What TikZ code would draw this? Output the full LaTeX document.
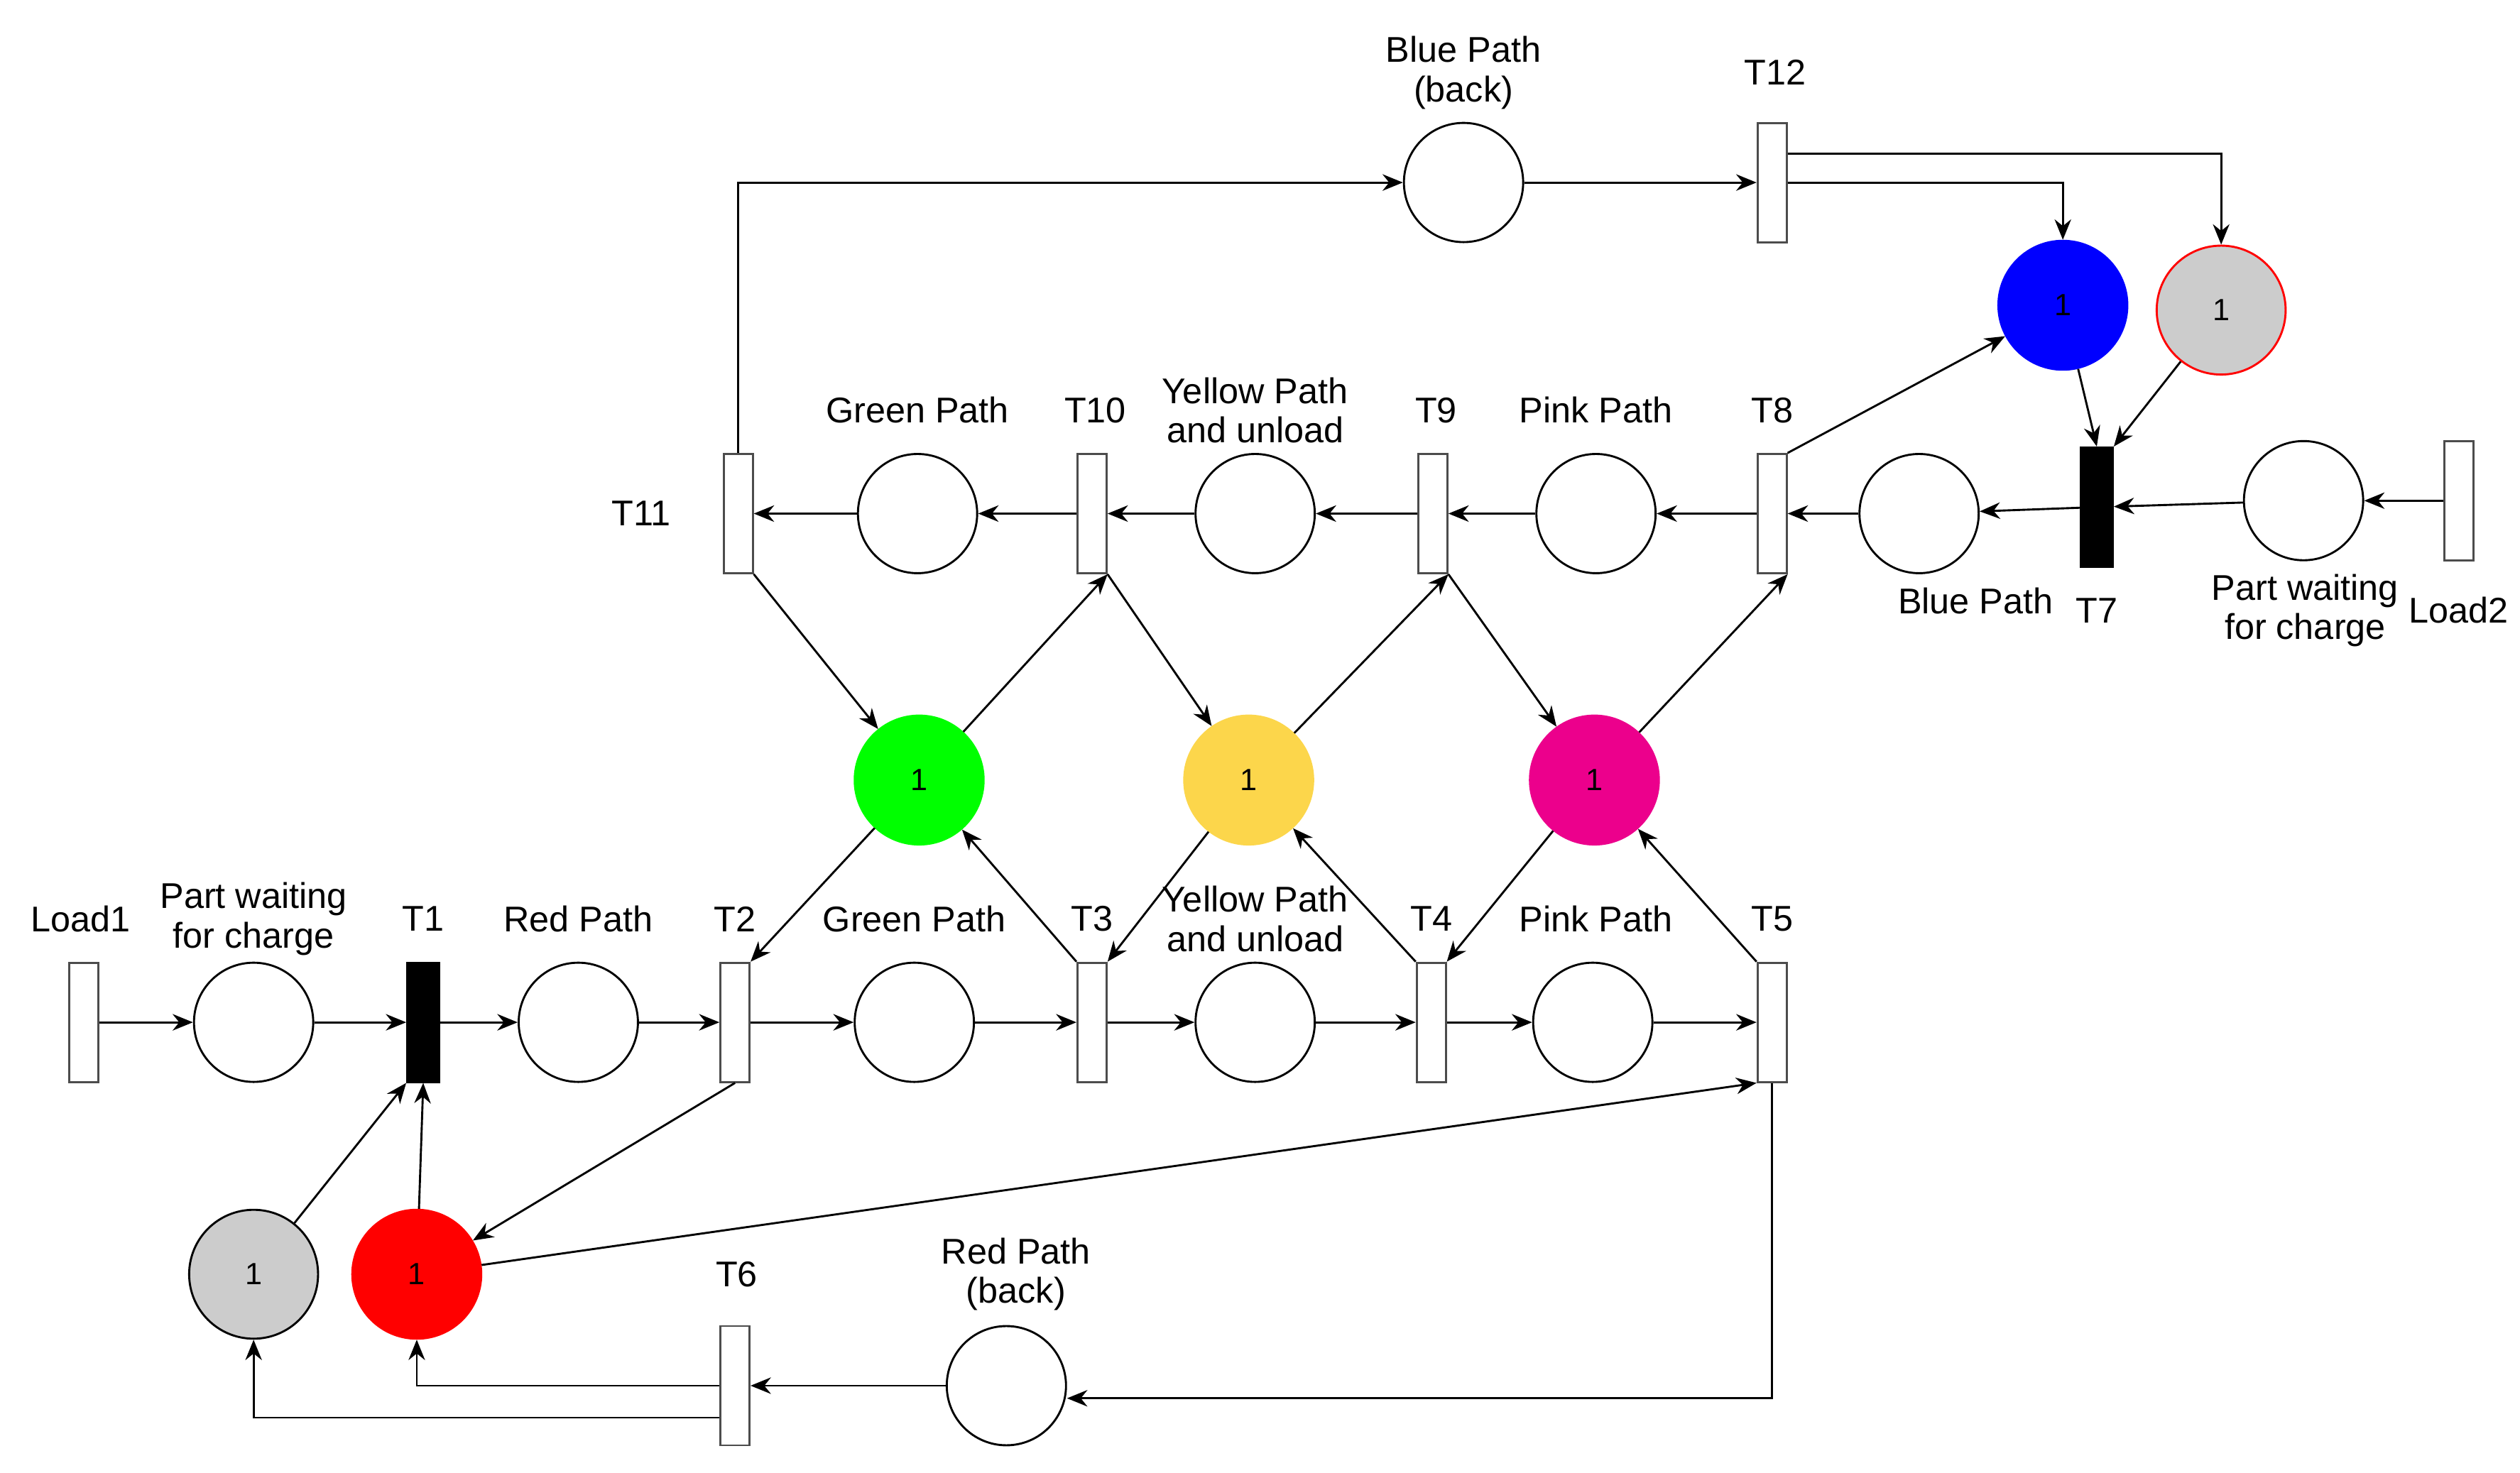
\documentclass[tikz,border=0pt]{standalone}
\usepackage{fontspec}
\setmainfont{Liberation Sans}
\usetikzlibrary{arrows.meta}

\tikzset{
  place/.style={circle,draw,minimum size=1.23cm,inner sep=0pt,font=\small,semithick},
  token/.style={place,minimum size=1.33cm},
  trans/.style={rectangle,draw=black!70,fill=white,minimum width=0.3cm,minimum height=1.23cm,inner sep=0pt,semithick},
  btrans/.style={trans,fill=black,draw=black,minimum width=0.33cm},
  lbl/.style={align=center,font=\fontsize{10.5}{11.5}\selectfont,inner sep=1pt},
  arc/.style={-{Stealth[length=2.1mm,width=1.7mm]},semithick}
}

\begin{document}
\begin{tikzpicture}[x=0.016667cm,y=-0.016667cm]
    \useasboundingbox (0,0) rectangle (1560,912);

    % lower row
    \node[trans]  (load1) at (52,633)  {};
    \node[place]  (pw1)   at (157,633) {};
    \node[btrans] (t1)    at (262,633) {};
    \node[place]  (rp)    at (358,633) {};
    \node[trans]  (t2)    at (455,633) {};
    \node[place]  (gp)    at (566,633) {};
    \node[trans]  (t3)    at (676,633) {};
    \node[place]  (yp)    at (777,633) {};
    \node[trans]  (t4)    at (886,633) {};
    \node[place]  (pp)    at (986,633) {};
    \node[trans]  (t5)    at (1097,633) {};

    % resources
    \node[token,fill=green,draw=green]         (gr) at (569,483) {1};
    \node[token,fill=yellow!60!orange!70,draw=yellow!60!orange!70] (ye) at (773,483) {1};
    \node[token,fill=magenta,draw=magenta] (pk) at (987,483) {1};
    \node[token,fill=black!20]      (g1) at (157,789) {1};
    \node[token,fill=red,draw=red]  (rd) at (258,789) {1};
    \node[token,fill=blue,draw=blue] (bl) at (1277,189) {1};
    \node[token,fill=black!20,draw=red] (g2) at (1375,192) {1};

    % upper row
    \node[trans]  (t11)   at (457,318) {};
    \node[place]  (ugp)   at (568,318) {};
    \node[trans]  (t10)   at (676,318) {};
    \node[place]  (uyp)   at (777,318) {};
    \node[trans]  (t9)    at (887,318) {};
    \node[place]  (upp)   at (988,318) {};
    \node[trans]  (t8)    at (1097,318) {};
    \node[place]  (ubp)   at (1188,318) {};
    \node[btrans] (t7)    at (1298,314) {};
    \node[place]  (pw2)   at (1426,310) {};
    \node[trans]  (load2) at (1522,310) {};

    % return paths
    \node[place]  (bb)    at (906,113) {};
    \node[trans]  (t12)   at (1097,113) {};
    \node[place]  (rb)    at (623,858) {};
    \node[trans]  (t6)    at (455,858) {};

    % labels
    \node[lbl] at (50,569)  {Load1};
    \node[lbl] at (157,569) {Part waiting\\for charge};
    \node[lbl] at (262,569) {T1};
    \node[lbl] at (358,569) {Red Path};
    \node[lbl] at (455,569) {T2};
    \node[lbl] at (566,569) {Green Path};
    \node[lbl] at (676,569) {T3};
    \node[lbl] at (777,569) {Yellow Path\\and unload};
    \node[lbl] at (886,569) {T4};
    \node[lbl] at (988,569) {Pink Path};
    \node[lbl] at (1097,569) {T5};
    \node[lbl] at (568,254) {Green Path};
    \node[lbl] at (678,254) {T10};
    \node[lbl] at (777,254) {Yellow Path\\and unload};
    \node[lbl] at (889,254) {T9};
    \node[lbl] at (988,254) {Pink Path};
    \node[lbl] at (1097,254) {T8};
    \node[lbl] at (397,318) {T11};
    \node[lbl] at (1223,372) {Blue Path};
    \node[lbl] at (1298,378) {T7};
    \node[lbl] at (1427,378) {Part waiting\\for charge};
    \node[lbl] at (1522,378) {Load2};
    \node[lbl] at (906,45)  {Blue Path\\(back)};
    \node[lbl] at (1099,45) {T12};
    \node[lbl] at (456,789) {T6};
    \node[lbl] at (629,789) {Red Path\\(back)};

    % lower flow
    \draw[arc] (load1) -- (pw1);
    \draw[arc] (pw1) -- (t1);
    \draw[arc] (t1) -- (rp);
    \draw[arc] (rp) -- (t2);
    \draw[arc] (t2) -- (gp);
    \draw[arc] (gp) -- (t3);
    \draw[arc] (t3) -- (yp);
    \draw[arc] (yp) -- (t4);
    \draw[arc] (t4) -- (pp);
    \draw[arc] (pp) -- (t5);

    % upper flow
    \draw[arc] (load2) -- (pw2);
    \draw[arc] (pw2) -- (t7);
    \draw[arc] (t7) -- (ubp);
    \draw[arc] (ubp) -- (t8);
    \draw[arc] (t8) -- (upp);
    \draw[arc] (upp) -- (t9);
    \draw[arc] (t9) -- (uyp);
    \draw[arc] (uyp) -- (t10);
    \draw[arc] (t10) -- (ugp);
    \draw[arc] (ugp) -- (t11);

    % resources
    \draw[arc] (g1) -- (t1.south west);
    \draw[arc] (rd) -- (t1.south);
    \draw[arc] (t2.south) -- (rd);
    \draw[arc] (rd) -- (t5.south west);
    \draw[arc] (gr) -- (t2.north east);
    \draw[arc] (t3.north west) -- (gr);
    \draw[arc] (gr) -- (t10.south east);
    \draw[arc] (t11.south east) -- (gr);
    \draw[arc] (ye) -- (t3.north east);
    \draw[arc] (t4.north west) -- (ye);
    \draw[arc] (ye) -- (t9.south east);
    \draw[arc] (t10.south east) -- (ye);
    \draw[arc] (pk) -- (t4.north east);
    \draw[arc] (t5.north west) -- (pk);
    \draw[arc] (pk) -- (t8.south east);
    \draw[arc] (t9.south east) -- (pk);
    \draw[arc] (t8.north east) -- (bl);
    \draw[arc] (bl) -- (t7.north);
    \draw[arc] (g2) -- (t7.north east);

    % return paths
    \draw[arc] (t11.north) |- (bb);
    \draw[arc] (bb) -- (t12);
    \draw[arc] (t12.east) -| (bl);
    \draw[arc] ([yshift=0.3cm]t12.east) -| (g2);
    \draw[arc] (t5.south) |- ([yshift=-0.13cm]rb.east);
    \draw[arc] (rb) -- (t6);
    \draw[arc] (t6.west) -| (rd);
    \draw[arc] ([yshift=-0.33cm]t6.west) -| (g1);
\end{tikzpicture}
\end{document}
